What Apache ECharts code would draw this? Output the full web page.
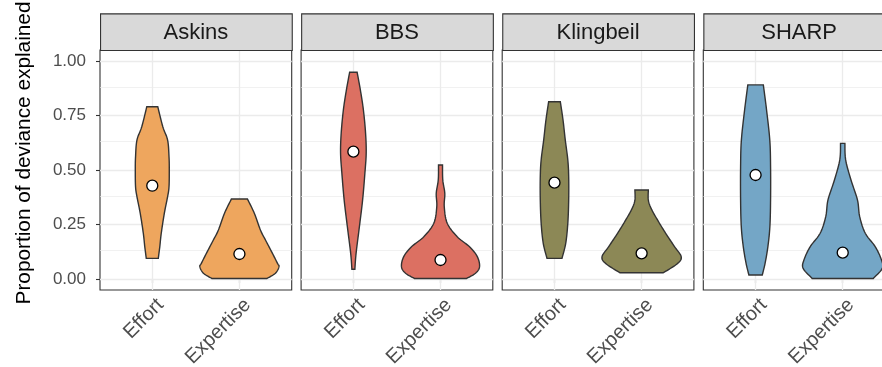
<!DOCTYPE html>
<html><head><meta charset="utf-8">
<script src="https://cdn.jsdelivr.net/npm/echarts@6/dist/echarts.min.js"></script>
<style>html,body{margin:0;padding:0;background:#fff}#c{width:882px;height:367px}</style>
</head><body><div id="c"></div>
<script>
// ---------- data ----------
const panels = ['Askins', 'BBS', 'Klingbeil', 'SHARP'];
const groups = ['Effort', 'Expertise'];
const panelColors = ['#EEA65E', '#DC7062', '#8C8856', '#74A6C6'];
const yTickValues = [0, 0.25, 0.5, 0.75, 1];
const yTickLabels = ['0.00', '0.25', '0.50', '0.75', '1.00'];
const yMinorValues = [0.125, 0.375, 0.625, 0.875];

// violin profiles: [value, half-width (in category units)] from bottom to top
const askinsEffort = [[0.095,0.069],[0.148,0.086],[0.21,0.103],[0.301,0.138],[0.378,0.176],[0.423,0.192],[0.5,0.195],[0.561,0.192],[0.637,0.176],[0.698,0.121],[0.79,0.063]];
const askinsExpertise = [[0.003,0.316],[0.027,0.414],[0.057,0.454],[0.072,0.437],[0.118,0.379],[0.179,0.299],[0.225,0.241],[0.301,0.172],[0.367,0.092]];
const bbsEffort = [[0.045,0.017],[0.118,0.031],[0.24,0.069],[0.363,0.106],[0.485,0.132],[0.577,0.147],[0.668,0.140],[0.775,0.115],[0.867,0.080],[0.948,0.043]];
const bbsExpertise = [[0.003,0.299],[0.027,0.402],[0.057,0.448],[0.103,0.422],[0.148,0.333],[0.194,0.192],[0.256,0.077],[0.332,0.043],[0.393,0.049],[0.454,0.026],[0.523,0.023]];
const klingbeilEffort = [[0.095,0.086],[0.164,0.129],[0.256,0.153],[0.363,0.163],[0.469,0.163],[0.546,0.153],[0.637,0.124],[0.729,0.098],[0.813,0.067]];
const klingbeilExpertise = [[0.029,0.249],[0.072,0.414],[0.103,0.454],[0.148,0.379],[0.21,0.276],[0.271,0.182],[0.324,0.109],[0.363,0.077],[0.408,0.077]];
const sharpEffort = [[0.019,0.077],[0.072,0.109],[0.148,0.141],[0.24,0.164],[0.363,0.172],[0.515,0.172],[0.637,0.163],[0.775,0.126],[0.89,0.089]];
const sharpExpertise = [[0.003,0.351],[0.049,0.454],[0.0875,0.445],[0.148,0.374],[0.21,0.259],[0.286,0.195],[0.363,0.169],[0.454,0.095],[0.546,0.034],[0.622,0.025]];

// central points (white dots)
const askinsCentres = [0.428, 0.115];
const bbsCentres = [0.584, 0.0875];
const klingbeilCentres = [0.442, 0.118];
const sharpCentres = [0.477, 0.121];

const profiles = [[askinsEffort, askinsExpertise],[bbsEffort, bbsExpertise],[klingbeilEffort, klingbeilExpertise],[sharpEffort, sharpExpertise]];
const centres = [askinsCentres, bbsCentres, klingbeilCentres, sharpCentres];

// ---------- layout ----------
const FONT = 'Liberation Sans, Arial, Helvetica, sans-serif';
const panelLeft0 = 100, panelStep = 201.1, panelW = 191.7, panelTop = 50, panelH = 240;
const stripTop = 13.3, stripH = panelTop - stripTop;
const labelShift = 0.095;

// smooth a profile outline (Catmull-Rom, rendering only)
function smoothProfile(prof, steps) {
  const out = [];
  const n = prof.length;
  for (let i = 0; i < n - 1; i++) {
    const p0 = prof[Math.max(0, i - 1)], p1 = prof[i], p2 = prof[i + 1], p3 = prof[Math.min(n - 1, i + 2)];
    for (let s = 0; s < steps; s++) {
      const t = s / steps, t2 = t * t, t3 = t2 * t;
      const f = k => 0.5 * ((2 * p1[k]) + (-p0[k] + p2[k]) * t + (2 * p0[k] - 5 * p1[k] + 4 * p2[k] - p3[k]) * t2 + (-p0[k] + 3 * p1[k] - 3 * p2[k] + p3[k]) * t3);
      out.push([f(0), Math.max(0.005, f(1))]);
    }
  }
  out.push(prof[n - 1]);
  return out;
}

const grids = [], xAxes = [], yAxes = [], series = [], graphics = [];

panels.forEach((name, p) => {
  const left = panelLeft0 + p * panelStep;
  grids.push({left: left, top: panelTop, width: panelW, height: panelH, show: true,
    backgroundColor: '#fff', borderColor: '#333333', borderWidth: 1.1,
    containLabel: false, outerBoundsMode: 'none'});
  xAxes.push({type: 'value', gridIndex: p, min: 0.4, max: 2.6,
    axisLine: {show: false},
    splitLine: {show: false},
    axisTick: {show: true, inside: false, length: 4, customValues: [1, 2], lineStyle: {color: '#333333', width: 1.1}},
    axisLabel: {show: true, rotate: 45, margin: 12, fontSize: 20, color: '#4D4D4D', fontFamily: FONT,
      customValues: [1 + labelShift, 2 + labelShift],
      formatter: v => groups[Math.round(v) - 1]}
  });
  yAxes.push({type: 'value', gridIndex: p, min: -0.05, max: 1.05,
    axisLine: {show: false},
    splitLine: {show: false},
    axisTick: {show: p === 0, inside: false, length: 4, customValues: yTickValues, lineStyle: {color: '#333333', width: 1.1}},
    axisLabel: {show: p === 0, margin: 14, fontSize: 17, color: '#4D4D4D', fontFamily: FONT,
      customValues: yTickValues,
      formatter: v => yTickLabels[yTickValues.indexOf(v)] ?? v.toFixed(2)}
  });
  // grid lines
  const gl = [];
  yMinorValues.forEach(v => gl.push({yAxis: v, lineStyle: {color: '#EBEBEB', width: 0.7, type: 'solid'}}));
  yTickValues.forEach(v => gl.push({yAxis: v, lineStyle: {color: '#EBEBEB', width: 1.3, type: 'solid'}}));
  [1, 2].forEach(v => gl.push({xAxis: v, lineStyle: {color: '#EBEBEB', width: 1.3, type: 'solid'}}));
  series.push({type: 'line', xAxisIndex: p, yAxisIndex: p, data: [], z: 1, silent: true,
    markLine: {silent: true, z: 1, symbol: 'none', label: {show: false}, animation: false, data: gl}});
  // violins
  series.push({type: 'custom', xAxisIndex: p, yAxisIndex: p, z: 3, clip: true,
    data: [[1, 0], [2, 0]], encode: {x: 0, y: 1},
    renderItem: (params, api) => {
      const gx = api.value(0);
      const prof = smoothProfile(profiles[p][gx - 1], 10);
      const right = prof.map(d => api.coord([gx + d[1], d[0]]));
      const leftSide = prof.slice().reverse().map(d => api.coord([gx - d[1], d[0]]));
      return {type: 'polygon', z2: 10, shape: {points: right.concat(leftSide)},
        style: {fill: panelColors[p], stroke: '#333333', lineWidth: 1.4}};
    }});
  // centre points
  series.push({type: 'scatter', xAxisIndex: p, yAxisIndex: p, z: 6,
    data: centres[p].map((v, i) => [i + 1, v]),
    symbol: 'circle', symbolSize: 11,
    itemStyle: {color: '#FFFFFF', borderColor: '#000000', borderWidth: 1.3, opacity: 1}});
  // strip
  graphics.push({type: 'rect', left: left, top: stripTop, z: 10,
    shape: {width: panelW, height: stripH},
    style: {fill: '#D9D9D9', stroke: '#333333', lineWidth: 1.1}});
  graphics.push({type: 'text', x: left + panelW / 2, y: stripTop + stripH / 2 + 1, z: 11,
    style: {text: name, fill: '#1A1A1A', font: '22px ' + FONT, textAlign: 'center', textVerticalAlign: 'middle'}});
});

graphics.push({type: 'text', x: 24, y: 153, rotation: Math.PI / 2, z: 11,
  style: {text: 'Proportion of deviance explained', fill: '#000000', font: '20.8px ' + FONT,
    textAlign: 'center', textVerticalAlign: 'middle'}});

const chart = echarts.init(document.getElementById('c'), null, {renderer: 'canvas'});
chart.setOption({
  animation: false,
  backgroundColor: '#ffffff',
  grid: grids, xAxis: xAxes, yAxis: yAxes, series: series, graphic: graphics
});
</script>
</body></html>
